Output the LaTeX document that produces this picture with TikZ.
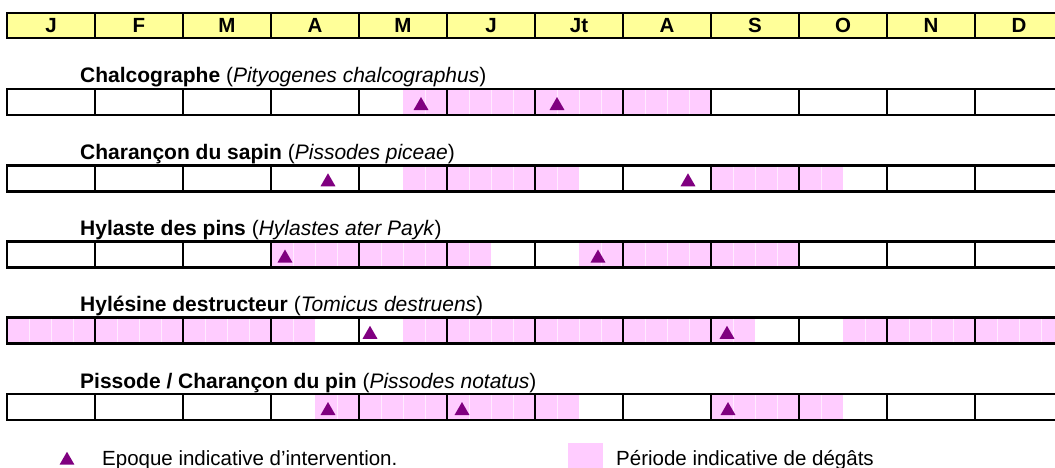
\documentclass[tikz,border=0pt]{standalone}
\usepackage{fontspec}
\setmainfont{Liberation Sans}
\usepackage{tikz}
\usetikzlibrary{shapes.geometric}
\definecolor{jaune}{RGB}{255,255,153}
\definecolor{rose}{RGB}{255,204,255}
\definecolor{pourpre}{RGB}{128,0,128}
\tikzset{>=latex}
\tikzset{
  grille/.style={line width=2.6pt},
  mois/.style={font=\fontsize{20.5}{24}\selectfont\bfseries, anchor=base, inner sep=0pt},
  titre/.style={font=\fontsize{21}{24}\selectfont, anchor=base west, inner sep=0pt},
  legende/.style={font=\fontsize{20.5}{24}\selectfont, anchor=base west, inner sep=0pt},
  repere/.style={regular polygon, regular polygon sides=3, fill=pourpre, minimum size=17.3pt, inner sep=0pt},
  semaine/.style={white!60!rose, line width=0.5pt}
}

\begin{document}
\begin{tikzpicture}[x=1pt, y=-1pt]
\useasboundingbox (0,0) rectangle (1055,468);
\clip (0,0) rectangle (1055,468);
% months
\fill[jaune] (7,13) rectangle (1063,38);
\draw[grille] (7,13) rectangle (1063,38);
\foreach \m [count=\i] in {J,F,M,A,M,J,Jt,A,S,O,N,D} {
  \draw[grille] ({7+88*\i},13) -- ({7+88*\i},38);
  \node[mois] (m\i) at ({7+88*(\i-0.5)},33) {\m};
}
% periods of damage, counted in weeks
\foreach \r/\a/\b in {1/18/31, 2/18/25, 2/32/37, 3/12/21, 3/26/35,
                      4/0/13, 4/18/33, 4/38/47, 5/14/25, 5/32/37} {
  \fill[rose] ({7+22*\a},{89+76.25*(\r-1)}) rectangle ({7+22*(\b+1)},{115+76.25*(\r-1)});
  \pgfmathtruncatemacro\c{\a+1}
  \foreach \w in {\c,...,\b}
    \draw[semaine] ({7+22*\w},{89+76.25*(\r-1)}) -- ++(0,26);
}
% one row per insect
\foreach \t [count=\r] in {
  {\textbf{Chalcographe} (\textit{Pityogenes chalcographus})},
  {\textbf{Charançon du sapin} (\textit{Pissodes piceae})},
  {\textbf{Hylaste des pins} (\textit{Hylastes ater Payk})},
  {\textbf{Hylésine destructeur} (\textit{Tomicus destruens})},
  {\textbf{Pissode / Charançon du pin} (\textit{Pissodes notatus})}} {
  \pgfmathsetmacro\y{89+76.25*(\r-1)}
  \node[titre] (titre\r) at (80,{\y-6}) {\t};
  \draw[grille] (7,\y) rectangle (1063,{\y+26});
  \foreach \i in {1,...,11}
    \draw[grille] ({7+88*\i},\y) -- ++(0,26);
}
% intervention
\foreach \r/\x [count=\k] in {1/421, 1/557, 2/328, 2/688, 3/285, 3/598,
                               4/370, 4/727, 5/328, 5/462, 5/728}
  \node[repere] (tri\k) at (\x,{89+76.25*(\r-1)+16.7}) {};
% legend
\node[repere] (leg-tri) at (67,460.4) {};
\node[legende] (leg-int) at (102,465) {Epoque indicative d’intervention.};
\node[fill=rose, minimum width=35pt, minimum height=27pt, inner sep=0pt, anchor=north west] (leg-box) at (568,443) {};
\node[legende] (leg-deg) at (616,465) {Période indicative de dégâts};
\end{tikzpicture}
\end{document}
